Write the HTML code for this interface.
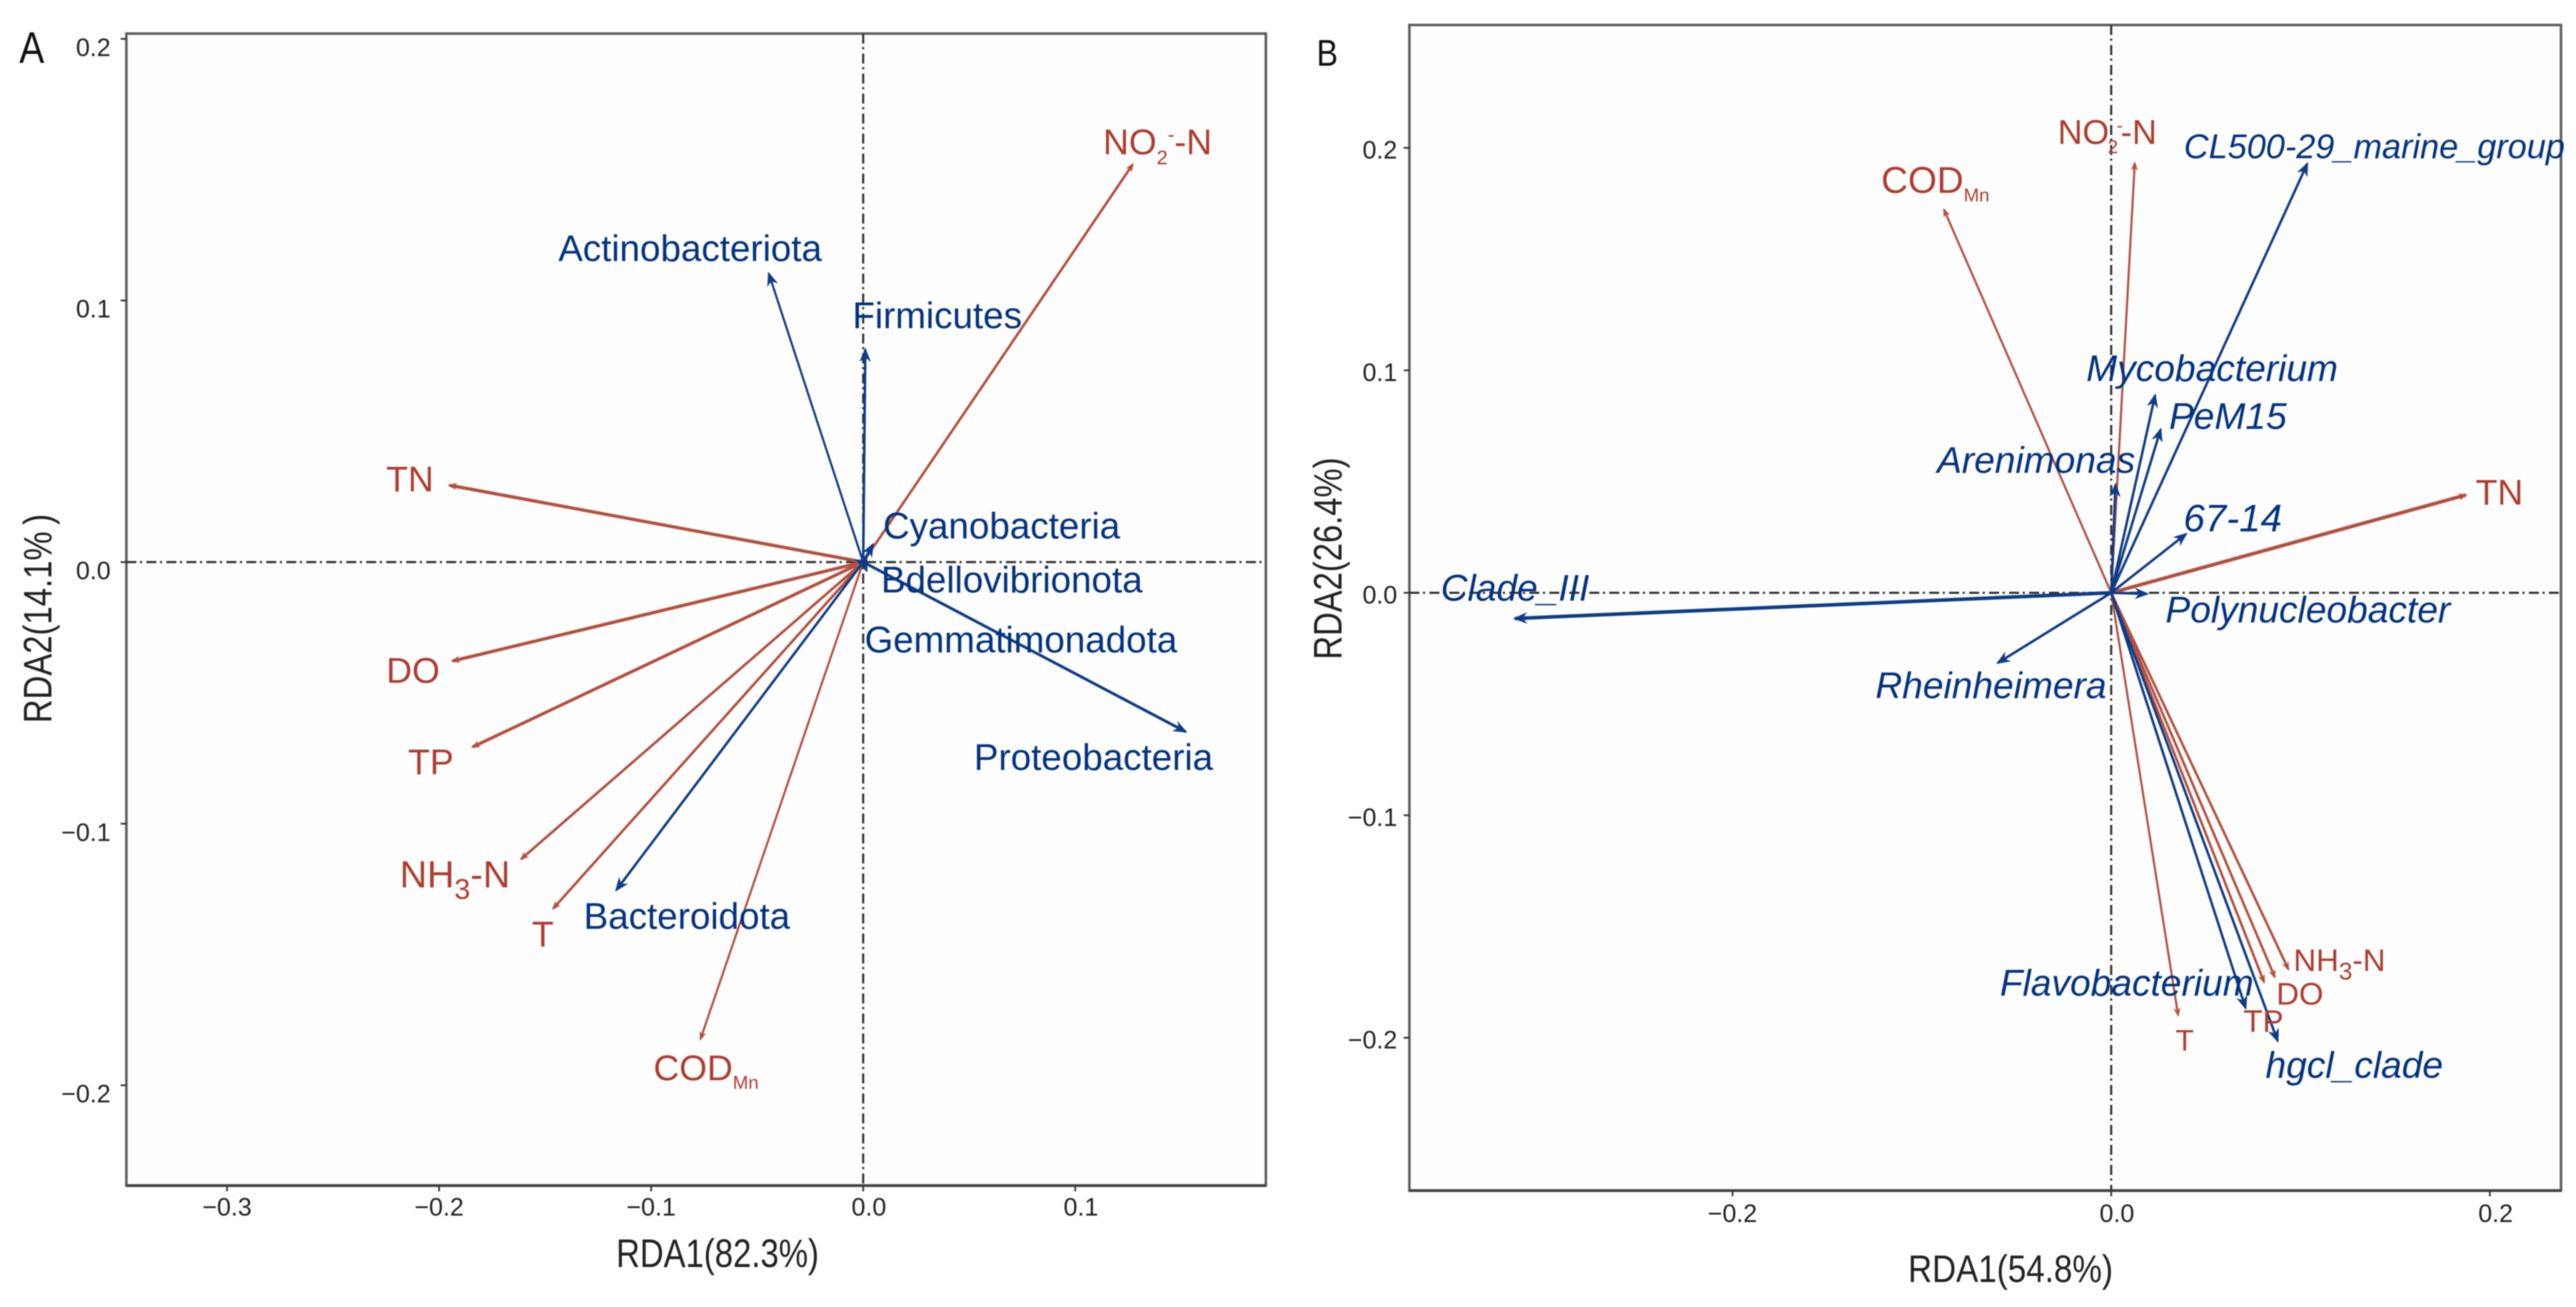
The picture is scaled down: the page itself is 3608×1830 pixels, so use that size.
<!DOCTYPE html>
<html lang="en">
<head>
<meta charset="utf-8">
<title>RDA biplots</title>
<style>
html,body{margin:0;padding:0;background:#fff;width:3608px;height:1830px;overflow:hidden}
svg{display:block;filter:blur(.9px)}
text{font-family:"Liberation Sans",sans-serif}
</style>
</head>
<body>
<svg id="chart" xmlns="http://www.w3.org/2000/svg" width="3608" height="1830" viewBox="0 0 3608 1830">
<rect width="3608" height="1830" fill="#fff"/>
<g id="panel-a"></g>
<g id="panel-b"></g>
</svg>
<script>
/* ---------- Panel A data ---------- */
const envNamesA = ["NO2-N","TN","DO","TP","NH3-N","T","CODMn"];
const envRda1A = [0.1276,-0.196,-0.1946,-0.185,-0.162,-0.1468,-0.077];
const envRda2A = [0.1526,0.0295,-0.038,-0.071,-0.114,-0.133,-0.183];
const taxaNamesA = ["Actinobacteriota","Firmicutes","Cyanobacteria","Bdellovibrionota","Gemmatimonadota","Proteobacteria","Bacteroidota"];
const taxaRda1A = [-0.0448,0.001,0.005,0.002,0.002,0.1529,-0.117];
const taxaRda2A = [0.111,0.082,0.0074,-0.004,-0.002,-0.0652,-0.126];
const xTicksA = [-0.3,-0.2,-0.1,0,0.1];
const yTicksA = [-0.2,-0.1,0,0.1,0.2];

/* ---------- Panel B data ---------- */
const envNamesB = ["NO2-N","CODMn","TN","NH3-N","DO","TP","T"];
const envRda1B = [0.0125,-0.0887,0.1883,0.094,0.0868,0.0811,0.0355];
const envRda2B = [0.194,0.173,0.0442,-0.17,-0.1735,-0.1758,-0.1907];
const taxaNamesB = ["CL500-29_marine_group","Mycobacterium","PeM15","Arenimonas","67-14","Polynucleobacter","Clade_III","Rheinheimera","Flavobacterium","hgcl_clade"];
const taxaRda1B = [0.104,0.0234,0.0264,0.0023,0.0404,0.02,-0.316,-0.0608,0.0713,0.0883];
const taxaRda2B = [0.1937,0.0897,0.0743,0.0495,0.027,-0.0005,-0.0116,-0.032,-0.1875,-0.2023];
const xTicksB = [-0.2,0,0.2];
const yTicksB = [-0.2,-0.1,0,0.1,0.2];

/* ---------- Layout (separate from data) ---------- */
const RED = "#b4503f", REDTXT = "#ae3d30", BLUE = "#0f3c86", BLUETXT = "#033280";
const NS = "http://www.w3.org/2000/svg";
const richA = {
  "NO2-N":'NO<tspan dy="14" font-size="28">2</tspan><tspan dy="-32" font-size="28">-</tspan><tspan dy="18">-N</tspan>',
  "NH3-N":'NH<tspan dy="16" font-size="40">3</tspan><tspan dy="-16">-N</tspan>',
  "CODMn":'COD<tspan dy="12" font-size="26">Mn</tspan>'
};
const richB = {
  "NO2-N":'NO<tspan dx="-2" dy="13" font-size="26">2</tspan><tspan dx="-2" dy="-30" font-size="26">-</tspan><tspan dx="-3" dy="17">-N</tspan>',
  "NH3-N":'NH<tspan dy="12" font-size="34">3</tspan><tspan dy="-12">-N</tspan>',
  "CODMn":'COD<tspan dy="12" font-size="26">Mn</tspan>'
};
const panelA = {
  root:"panel-a", left:177, right:1773, top:47, bottom:1660,
  x0:1209, xScale:2970, y0:787, yScale:3663,
  xTicks:xTicksA, yTicks:yTicksA, xLabelY:1702, yLabelRight:155, yLabelShift:24,
  xTitle:"RDA1(82.3%)", xTitleX:1005, xTitleY:1774, xTitleSize:56, xTitleLen:284,
  yTitle:"RDA2(14.1%\u2009)", yTitleX:72, yTitleY:866, yTitleSize:56, yTitleLen:293,
  letter:"A", letterX:27, letterY:88, letterSize:62, letterLen:35,
  envNames:envNamesA, envX:envRda1A, envY:envRda2A,
  taxaNames:taxaNamesA, taxaX:taxaRda1A, taxaY:taxaRda2A,
  rich:richA, italic:false, sizes:{"NH3-N":53}, envDefault:50, taxaDefault:51.5,
  widths:{"TN":4.6,"DO":4.6,"TP":4.4,"NH3-N":3.6,"T":3.6,"CODMn":3,"NO2-N":3.6,"Actinobacteriota":3,"Proteobacteria":4},
  offsets:{
    "NO2-N":[-43,-12],"TN":[-86,9],"DO":[-90,30],"TP":[-88,37],"NH3-N":[-168,38],"T":[-28,51],"CODMn":[-65,55],
    "Actinobacteriota":[-294,-15],"Firmicutes":[-18,-27],"Cyanobacteria":[13,-6],"Bdellovibrionota":[19,28],
    "Gemmatimonadota":[-4,119],"Proteobacteria":[-299,52],"Bacteroidota":[-44,52]
  }
};
const panelB = {
  root:"panel-b", left:1974, right:3587, top:35, bottom:1667,
  x0:2957, xScale:2652, y0:830, yScale:3115,
  xTicks:xTicksB, yTicks:yTicksB, xLabelY:1711, yLabelRight:1957, yLabelShift:15,
  xTitle:"RDA1(54.8%)", xTitleX:2816, xTitleY:1795, xTitleSize:54, xTitleLen:287,
  yTitle:"RDA2(26.4%)", yTitleX:1879, yTitleY:782, yTitleSize:56, yTitleLen:283,
  letter:"B", letterX:1844, letterY:92, letterSize:52, letterLen:30,
  envNames:envNamesB, envX:envRda1B, envY:envRda2B,
  taxaNames:taxaNamesB, taxaX:taxaRda1B, taxaY:taxaRda2B,
  rich:richB, italic:true,
  sizes:{"NO2-N":48,"NH3-N":44,"DO":44,"TP":44,"T":42,"TN":50,"CL500-29_marine_group":48,"67-14":54},
  envDefault:52, taxaDefault:52,
  widths:{"TN":5,"CODMn":3,"NO2-N":3,"T":3,"Clade_III":5,"Rheinheimera":3.6},
  offsets:{
    "NO2-N":[-108,-24],"CODMn":[-87,-21],"TN":[11,14],"NH3-N":[6,0],"DO":[1,36],"TP":[-30,67],"T":[-4,47],
    "CL500-29_marine_group":[-174,-5],"Mycobacterium":[-97,-17],"PeM15":[11,2],"Arenimonas":[-250,-14],
    "67-14":[-6,-2],"Polynucleobacter":[23,40],"Clade_III":[-101,-25],"Rheinheimera":[-169,48],
    "Flavobacterium":[-345,-20],"hgcl_clade":[-18,49]
  }
};

function make(tag, attrs, parent){
  const el = document.createElementNS(NS, tag);
  for (const k in attrs) el.setAttribute(k, attrs[k]);
  parent.appendChild(el);
  return el;
}
function slug(s){ return s.toLowerCase().replace(/[^a-z0-9]+/g,'-').replace(/^-|-$/g,''); }
function fmt(v){ return (v < 0 ? "\u2212" : "") + Math.abs(v).toFixed(1); }

function drawArrow(g, p, label, x, y, color, h, w){
  const name = slug(label);
  const sx = p.x0 + x * p.xScale, sy = p.y0 - y * p.yScale;
  const dx = sx - p.x0, dy = sy - p.y0, len = Math.hypot(dx, dy) || 1;
  const ux = dx / len, uy = dy / len;
  const line = make("line",{x1:p.x0,y1:p.y0,x2:sx-ux*3,y2:sy-uy*3,stroke:color,"stroke-width":p.widths[label]||3.5},g);
  
  
  const head = make("polygon",{points:[
    [sx,sy],
    [sx-ux*h-uy*w, sy-uy*h+ux*w],
    [sx-ux*h*0.7, sy-uy*h*0.7],
    [sx-ux*h+uy*w, sy-uy*h-ux*w]
  ].map(c=>c.join(",")).join(" "),fill:color},g);
  
  
}
function drawLabel(g, p, name, x, y, color, size, italic){
  const off = p.offsets[name] || [0,0];
  const sx = p.x0 + x * p.xScale + off[0], sy = p.y0 - y * p.yScale + off[1];
  const t = make("text",{x:sx,y:sy,fill:color,"font-size":size},g);
  if (italic) t.setAttribute("font-style","italic");
  if (!italic && p.rich[name]) t.innerHTML = p.rich[name];
  else t.textContent = name;
  
  
}
function drawPanel(p){
  const g = document.getElementById(p.root);
  const frame = make("rect",{x:p.left,y:p.top,width:p.right-p.left,height:p.bottom-p.top,fill:"#fefefe",stroke:"#5e5e5e","stroke-width":3.6},g);
  
  
  const base = make("line",{x1:p.left,x2:p.right,y1:p.bottom,y2:p.bottom,stroke:"#444","stroke-width":4},g);
  
  

  const h0 = make("line",{x1:p.left,x2:p.right,y1:p.y0,y2:p.y0,stroke:"#333","stroke-width":3,"stroke-dasharray":"14 5 3 6"},g);
  
  
  const v0 = make("line",{x1:p.x0,x2:p.x0,y1:p.top,y2:p.bottom,stroke:"#333","stroke-width":3,"stroke-dasharray":"14 5 3 6"},g);
  
  

  p.xTicks.forEach(v=>{
    const x = p.x0 + v * p.xScale;
    const tick = make("line",{x1:x,x2:x,y1:p.bottom,y2:p.bottom+8,stroke:"#333","stroke-width":2.4},g);
    
    
    const lab = make("text",{x:x+(v<0?0:8),y:p.xLabelY,"font-size":35,fill:"#222","text-anchor":"middle"},g);
    lab.textContent = fmt(v);
    
    
  });
  p.yTicks.forEach(v=>{
    const y = p.y0 - v * p.yScale;
    const tick = make("line",{x1:p.left-8,x2:p.left,y1:y,y2:y,stroke:"#333","stroke-width":2.4},g);
    
    
    const lab = make("text",{x:p.yLabelRight,y:y+p.yLabelShift,"font-size":35,fill:"#222","text-anchor":"end"},g);
    lab.textContent = fmt(v);
    
    
  });

  p.envNames.forEach((n,i)=> drawArrow(g,p,n,p.envX[i],p.envY[i],RED,13,5));
  p.taxaNames.forEach((n,i)=> drawArrow(g,p,n,p.taxaX[i],p.taxaY[i],BLUE,20,8));
  p.envNames.forEach((n,i)=> drawLabel(g,p,n,p.envX[i],p.envY[i],REDTXT,p.sizes[n]||p.envDefault,false));
  p.taxaNames.forEach((n,i)=> drawLabel(g,p,n,p.taxaX[i],p.taxaY[i],BLUETXT,p.sizes[n]||p.taxaDefault,p.italic));

  const xt = make("text",{x:p.xTitleX,y:p.xTitleY,"font-size":p.xTitleSize,fill:"#222","text-anchor":"middle",textLength:p.xTitleLen,lengthAdjust:"spacingAndGlyphs"},g);
  xt.textContent = p.xTitle;
  
  
  const yt = make("text",{x:p.yTitleX,y:p.yTitleY,"font-size":p.yTitleSize,fill:"#222","text-anchor":"middle",textLength:p.yTitleLen,lengthAdjust:"spacingAndGlyphs",transform:"rotate(-90 "+p.yTitleX+" "+p.yTitleY+")"},g);
  yt.textContent = p.yTitle;
  
  
  const letter = make("text",{x:p.letterX,y:p.letterY,"font-size":p.letterSize,fill:"#111",textLength:p.letterLen,lengthAdjust:"spacingAndGlyphs"},g);
  letter.textContent = p.letter;
  
  
}
drawPanel(panelA);
drawPanel(panelB);
</script>
</body>
</html>
